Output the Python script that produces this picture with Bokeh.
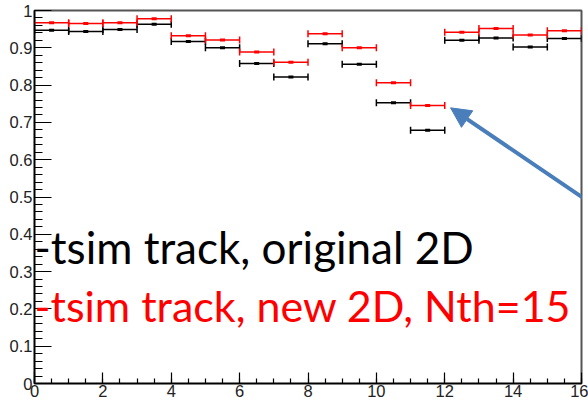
from bokeh.plotting import figure
from bokeh.models import (ColumnDataSource, Whisker, TeeHead, FixedTicker, Range1d,
                          CustomJSTickFormatter, Label, Arrow, NormalHead)
from bokeh.embed import file_html
from bokeh.resources import INLINE

# Bin centres (unit-width bins from 0 to 16)
bin_centers = [0.5, 1.5, 2.5, 3.5, 4.5, 5.5, 6.5, 7.5,
               8.5, 9.5, 10.5, 11.5, 12.5, 13.5, 14.5, 15.5]
# Efficiency, original 2D tracking
eff_original = [0.947, 0.944, 0.949, 0.963, 0.917, 0.900, 0.858, 0.822,
                0.911, 0.856, 0.753, 0.679, 0.920, 0.926, 0.902, 0.925]
# Efficiency, new 2D tracking (Nth=15)
eff_new = [0.967, 0.965, 0.967, 0.978, 0.932, 0.921, 0.889, 0.861,
           0.938, 0.900, 0.806, 0.745, 0.942, 0.952, 0.934, 0.946]

x_ticks = [0, 2, 4, 6, 8, 10, 12, 14, 16]
y_ticks = [0.0, 0.1, 0.2, 0.3, 0.4, 0.5, 0.6, 0.7, 0.8, 0.9, 1.0]

p = figure(width=588, height=404, output_backend="svg", toolbar_location=None,
           x_range=Range1d(0, 16), y_range=Range1d(0, 1),
           min_border_left=34, min_border_right=7, min_border_top=10, min_border_bottom=21)
p.grid.visible = False
p.background_fill_color = "white"
p.border_fill_color = "white"
p.outline_line_color = "#555555"
p.outline_line_width = 2

# Axes: ROOT-style inward ticks
p.axis.axis_line_color = "black"
p.axis.axis_line_width = 1.5
p.axis.major_tick_out = 0
p.axis.minor_tick_out = 0
p.axis.major_tick_line_color = "black"
p.axis.minor_tick_line_color = "black"
p.axis.major_tick_line_width = 1.2
p.axis.minor_tick_line_width = 1.2
p.axis.major_label_text_font = "Liberation Sans"
p.axis.major_label_text_font_size = "16.5px"
p.axis.major_label_text_color = "#222222"

p.xaxis.ticker = FixedTicker(ticks=x_ticks, minor_ticks=[i * 0.5 for i in range(33)])
p.xaxis.major_tick_in = 11
p.xaxis.minor_tick_in = 5
p.xaxis.major_label_standoff = 1

p.yaxis.ticker = FixedTicker(ticks=y_ticks, minor_ticks=[i * 0.02 for i in range(51)])
p.yaxis.major_tick_in = 17
p.yaxis.minor_tick_in = 8
p.yaxis.major_label_standoff = 2
p.yaxis.formatter = CustomJSTickFormatter(code="""
    if (Math.abs(tick) < 1e-9) return "0";
    if (Math.abs(tick - 1) < 1e-9) return "1";
    return tick.toFixed(1);
""")

def draw_series(values, color):
    src = ColumnDataSource(dict(
        x=bin_centers, y=values,
        lo=[c - 0.5 for c in bin_centers], hi=[c + 0.5 for c in bin_centers]))
    w = Whisker(source=src, base="y", lower="lo", upper="hi", dimension="width",
                line_color=color, line_width=1.5,
                lower_head=TeeHead(size=7, line_color=color, line_width=1.5),
                upper_head=TeeHead(size=7, line_color=color, line_width=1.5))
    p.add_layout(w)
    p.rect(x="x", y="y", width=5, height=3, width_units="screen", height_units="screen",
           source=src, fill_color=color, line_color=None)

draw_series(eff_original, "black")
draw_series(eff_new, "#ff0000")

p.add_layout(Label(x=0.0, y=0.365, text="-tsim track, original 2D", text_color="black",
                   text_font="Lato", text_font_size="44px", text_baseline="alphabetic"))
p.add_layout(Label(x=0.0, y=0.21, text="-tsim track, new 2D, Nth=15", text_color="#ff0000",
                   text_font="Lato", text_font_size="43px", text_baseline="alphabetic"))

p.add_layout(Arrow(x_start=16.25, y_start=0.485, x_end=12.17, y_end=0.739,
                   line_color="#4a7ebb", line_width=4,
                   end=NormalHead(size=20, fill_color="#4a7ebb", line_color="#4a7ebb")))

open("out.html", "w").write(file_html(p, INLINE))
